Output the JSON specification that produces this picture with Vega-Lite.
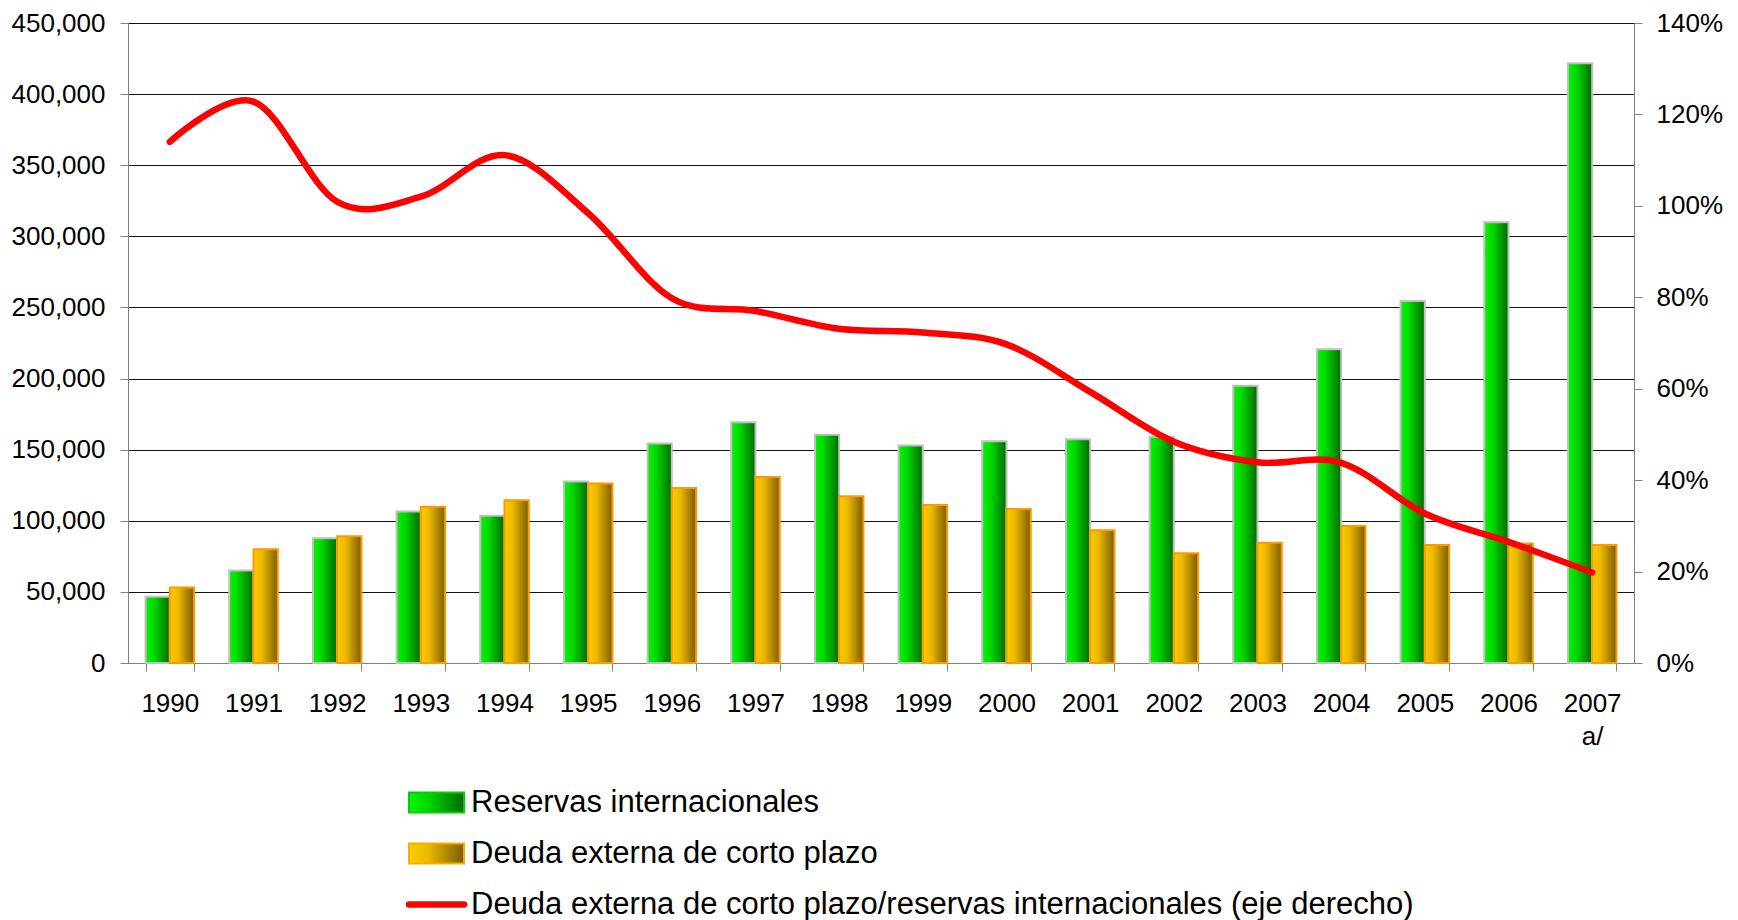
{
  "$schema": "https://vega.github.io/schema/vega-lite/v6.json",
  "width": 1506,
  "height": 640,
  "autosize": {"type": "none"},
  "padding": {"left": 128, "top": 23, "right": 104, "bottom": 257},
  "background": "white",
  "config": {
    "view": {"stroke": null},
    "font": "Liberation Sans",
    "axis": {"labelFont": "Liberation Sans", "labelColor": "#000000", "labelFontSize": 26, "title": null}
  },
  "datasets": {
    "bars": [
      {"year": "1990", "serie": "Reservas internacionales", "value": 46500},
      {"year": "1991", "serie": "Reservas internacionales", "value": 65000},
      {"year": "1992", "serie": "Reservas internacionales", "value": 87700},
      {"year": "1993", "serie": "Reservas internacionales", "value": 106600},
      {"year": "1994", "serie": "Reservas internacionales", "value": 103600},
      {"year": "1995", "serie": "Reservas internacionales", "value": 127700},
      {"year": "1996", "serie": "Reservas internacionales", "value": 154400},
      {"year": "1997", "serie": "Reservas internacionales", "value": 169200},
      {"year": "1998", "serie": "Reservas internacionales", "value": 160500},
      {"year": "1999", "serie": "Reservas internacionales", "value": 153000},
      {"year": "2000", "serie": "Reservas internacionales", "value": 155900},
      {"year": "2001", "serie": "Reservas internacionales", "value": 157300},
      {"year": "2002", "serie": "Reservas internacionales", "value": 159000},
      {"year": "2003", "serie": "Reservas internacionales", "value": 195000},
      {"year": "2004", "serie": "Reservas internacionales", "value": 220600},
      {"year": "2005", "serie": "Reservas internacionales", "value": 254500},
      {"year": "2006", "serie": "Reservas internacionales", "value": 309900},
      {"year": "2007", "serie": "Reservas internacionales", "value": 421700},
      {"year": "1990", "serie": "Deuda externa de corto plazo", "value": 53000},
      {"year": "1991", "serie": "Deuda externa de corto plazo", "value": 80000},
      {"year": "1992", "serie": "Deuda externa de corto plazo", "value": 89100},
      {"year": "1993", "serie": "Deuda externa de corto plazo", "value": 109900},
      {"year": "1994", "serie": "Deuda externa de corto plazo", "value": 114400},
      {"year": "1995", "serie": "Deuda externa de corto plazo", "value": 126200},
      {"year": "1996", "serie": "Deuda externa de corto plazo", "value": 123000},
      {"year": "1997", "serie": "Deuda externa de corto plazo", "value": 130800},
      {"year": "1998", "serie": "Deuda externa de corto plazo", "value": 117200},
      {"year": "1999", "serie": "Deuda externa de corto plazo", "value": 111100},
      {"year": "2000", "serie": "Deuda externa de corto plazo", "value": 108300},
      {"year": "2001", "serie": "Deuda externa de corto plazo", "value": 93300},
      {"year": "2002", "serie": "Deuda externa de corto plazo", "value": 77100},
      {"year": "2003", "serie": "Deuda externa de corto plazo", "value": 84600},
      {"year": "2004", "serie": "Deuda externa de corto plazo", "value": 96300},
      {"year": "2005", "serie": "Deuda externa de corto plazo", "value": 83000},
      {"year": "2006", "serie": "Deuda externa de corto plazo", "value": 84000},
      {"year": "2007", "serie": "Deuda externa de corto plazo", "value": 83000}
    ],
    "ratio": [
      {"year": "1990", "serie": "Deuda externa de corto plazo/reservas internacionales (eje derecho)", "ratio": 1.14},
      {"year": "1991", "serie": "Deuda externa de corto plazo/reservas internacionales (eje derecho)", "ratio": 1.228},
      {"year": "1992", "serie": "Deuda externa de corto plazo/reservas internacionales (eje derecho)", "ratio": 1.009},
      {"year": "1993", "serie": "Deuda externa de corto plazo/reservas internacionales (eje derecho)", "ratio": 1.02},
      {"year": "1994", "serie": "Deuda externa de corto plazo/reservas internacionales (eje derecho)", "ratio": 1.111},
      {"year": "1995", "serie": "Deuda externa de corto plazo/reservas internacionales (eje derecho)", "ratio": 0.984},
      {"year": "1996", "serie": "Deuda externa de corto plazo/reservas internacionales (eje derecho)", "ratio": 0.798},
      {"year": "1997", "serie": "Deuda externa de corto plazo/reservas internacionales (eje derecho)", "ratio": 0.77},
      {"year": "1998", "serie": "Deuda externa de corto plazo/reservas internacionales (eje derecho)", "ratio": 0.731},
      {"year": "1999", "serie": "Deuda externa de corto plazo/reservas internacionales (eje derecho)", "ratio": 0.723},
      {"year": "2000", "serie": "Deuda externa de corto plazo/reservas internacionales (eje derecho)", "ratio": 0.697},
      {"year": "2001", "serie": "Deuda externa de corto plazo/reservas internacionales (eje derecho)", "ratio": 0.593},
      {"year": "2002", "serie": "Deuda externa de corto plazo/reservas internacionales (eje derecho)", "ratio": 0.484},
      {"year": "2003", "serie": "Deuda externa de corto plazo/reservas internacionales (eje derecho)", "ratio": 0.439},
      {"year": "2004", "serie": "Deuda externa de corto plazo/reservas internacionales (eje derecho)", "ratio": 0.438},
      {"year": "2005", "serie": "Deuda externa de corto plazo/reservas internacionales (eje derecho)", "ratio": 0.327},
      {"year": "2006", "serie": "Deuda externa de corto plazo/reservas internacionales (eje derecho)", "ratio": 0.265},
      {"year": "2007", "serie": "Deuda externa de corto plazo/reservas internacionales (eje derecho)", "ratio": 0.198}
    ]
  },
  "layer": [
    {
      "data": {"name": "bars"},
      "mark": {"type": "bar", "strokeWidth": 2},
      "encoding": {
        "x": {
          "field": "year", "type": "nominal", "sort": null,
          "scale": {"paddingInner": 0.42, "paddingOuter": 0.21},
          "axis": {
            "labelAngle": 0, "tickBand": "extent", "tickSize": 8, "tickColor": "#808080",
            "domainColor": "#808080", "labelPadding": 19, "labelLineHeight": 33, "grid": false,
            "labelExpr": "datum.value === '2007' ? ['2007', 'a/'] : datum.value"
          }
        },
        "xOffset": {
          "field": "serie", "type": "nominal",
          "scale": {"domain": ["Reservas internacionales", "Deuda externa de corto plazo"], "paddingInner": 0}
        },
        "y": {
          "field": "value", "type": "quantitative",
          "scale": {"domain": [0, 450000], "nice": false},
          "axis": {
            "values": [0, 50000, 100000, 150000, 200000, 250000, 300000, 350000, 400000, 450000],
            "format": ",.0f", "tickSize": 8, "tickColor": "#808080", "domainColor": "#808080",
            "grid": true, "gridColor": "#111111", "gridWidth": 1, "gridOpacity": 1, "labelPadding": 15
          }
        },
        "fill": {
          "condition": {
            "test": "datum.serie === 'Reservas internacionales'",
            "value": {"gradient": "linear", "x1": 0, "y1": 0, "x2": 1, "y2": 0,
              "stops": [{"offset": 0, "color": "#00f800"}, {"offset": 0.35, "color": "#00d800"}, {"offset": 1, "color": "#006a00"}]}
          },
          "value": {"gradient": "linear", "x1": 0, "y1": 0, "x2": 1, "y2": 0,
            "stops": [{"offset": 0, "color": "#ffcc00"}, {"offset": 0.35, "color": "#ebb800"}, {"offset": 1, "color": "#7a5c00"}]}
        },
        "stroke": {
          "condition": {"test": "datum.serie === 'Reservas internacionales'", "value": "#c0c0c0"},
          "value": "#ff9900"
        }
      }
    },
    {
      "data": {"name": "ratio"},
      "mark": {"type": "line", "interpolate": "cardinal", "tension": 0, "strokeWidth": 6.5, "strokeCap": "round", "strokeJoin": "round"},
      "encoding": {
        "x": {"field": "year", "type": "nominal", "sort": null},
        "y": {
          "field": "ratio", "type": "quantitative",
          "scale": {"domain": [0, 1.4], "nice": false},
          "axis": {
            "orient": "right", "values": [0, 0.2, 0.4, 0.6, 0.8, 1, 1.2, 1.4], "format": ".0%",
            "grid": false, "tickSize": 8, "tickColor": "#808080", "domainColor": "#808080", "labelPadding": 14
          }
        },
        "color": {
          "field": "serie", "type": "nominal",
          "scale": {
            "domain": ["Reservas internacionales", "Deuda externa de corto plazo", "Deuda externa de corto plazo/reservas internacionales (eje derecho)"],
            "range": ["#00d000", "#f0b000", "#ff0000"]
          },
          "legend": {
            "orient": "none", "legendX": 278, "legendY": 764, "direction": "vertical", "title": null,
            "labelFont": "Liberation Sans", "labelFontSize": 31, "labelColor": "#000000", "labelLimit": 0,
            "symbolSize": 3025, "symbolOffset": 15, "labelOffset": 19, "rowPadding": 19,
            "encode": {
              "symbols": {
                "update": {
                  "shape": {"signal": "datum.value === 'Deuda externa de corto plazo/reservas internacionales (eje derecho)' ? 'M-1,0H1' : 'M-1,-0.364H1V0.364H-1Z'"},
                  "fill": {"signal": "datum.value === 'Reservas internacionales' ? {gradient: 'linear', x1: 0, y1: 0, x2: 1, y2: 0, stops: [{offset: 0, color: '#00f800'}, {offset: 0.35, color: '#00d800'}, {offset: 1, color: '#006a00'}]} : datum.value === 'Deuda externa de corto plazo' ? {gradient: 'linear', x1: 0, y1: 0, x2: 1, y2: 0, stops: [{offset: 0, color: '#ffcc00'}, {offset: 0.35, color: '#ebb800'}, {offset: 1, color: '#7a5c00'}]} : 'transparent'"},
                  "stroke": {"signal": "datum.value === 'Reservas internacionales' ? '#c0c0c0' : datum.value === 'Deuda externa de corto plazo' ? '#ff9900' : '#ff0000'"},
                  "strokeWidth": {"signal": "datum.value === 'Deuda externa de corto plazo/reservas internacionales (eje derecho)' ? 6.5 : 2"},
                  "strokeCap": {"value": "round"},
                  "opacity": {"value": 1}
                }
              }
            }
          }
        }
      }
    }
  ],
  "resolve": {"scale": {"y": "independent"}}
}
